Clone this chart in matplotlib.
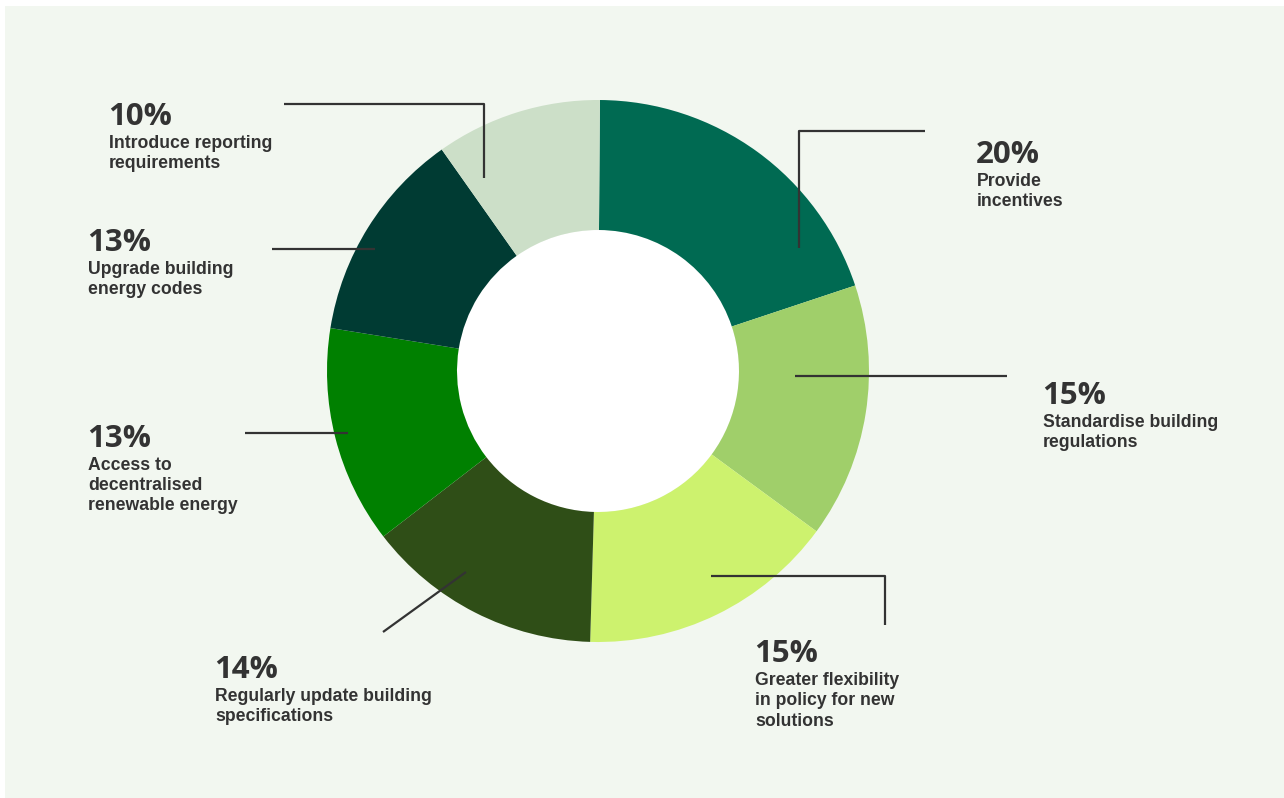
import matplotlib.pyplot as plt
from matplotlib.patches import Rectangle, Circle

# data, clockwise from 12 o'clock (shares)
shares = [19.8, 15.2, 15.4, 14.1, 13.0, 12.7, 9.9]
pct_labels = ["20%", "15%", "15%", "14%", "13%", "13%", "10%"]
names = ["Provide\nincentives",
         "Standardise building\nregulations",
         "Greater flexibility\nin policy for new\nsolutions",
         "Regularly update building\nspecifications",
         "Access to\ndecentralised\nrenewable energy",
         "Upgrade building\nenergy codes",
         "Introduce reporting\nrequirements"]
colors = ["#006A52", "#A0CF6A", "#CDF26E", "#2F4E17", "#008000", "#003B33", "#CCDFC8"]

# layout (pixel coords, y down): leader line paths and label anchors
leaders = [[(799, 248), (799, 131), (925, 131)],
           [(795, 376), (1007, 376)],
           [(711, 576), (885, 576), (885, 625)],
           [(466, 572), (383, 632)],
           [(348, 433), (245, 433)],
           [(375, 249), (272, 249)],
           [(484, 178), (484, 104), (284, 104)]]
label_pos = [(976, 140), (1042, 381), (754, 639), (214, 655),
             (87, 424), (87, 228), (108, 102)]

W, H = 1284, 798
fig = plt.figure(figsize=(W / 100, H / 100), dpi=100)
fig.patch.set_facecolor("white")
ax = fig.add_axes([0, 0, 1, 1])

ax.add_patch(Rectangle((5, 0), W - 5, H - 6, facecolor="#F2F7F0", edgecolor="none", zorder=0))

cx, cy, R, r_in = 598, H - 371, 271, 141
ax.pie(shares, colors=colors, startangle=89.6, counterclock=False,
       center=(cx, cy), radius=R, frame=True,
       wedgeprops=dict(width=R - r_in, edgecolor="none", zorder=2))
ax.add_patch(Circle((cx, cy), r_in, facecolor="white", edgecolor="none", zorder=1))
ax.set_xlim(0, W)
ax.set_ylim(0, H)
ax.set_aspect("equal")
ax.axis("off")

txt = "#333333"
for path, (lx, ly), p, n in zip(leaders, label_pos, pct_labels, names):
    xs = [q[0] for q in path]
    ys = [H - q[1] for q in path]
    ax.plot(xs, ys, color=txt, lw=1.6, solid_capstyle="butt", zorder=3)
    ax.text(lx, H - ly, p, fontsize=22.5, fontweight="bold", family="Open Sans",
            color=txt, va="top", ha="left")
    ax.text(lx + 1, H - ly - 33, n, fontsize=12.7, fontweight="bold",
            family="Liberation Sans", color=txt, va="top", ha="left", linespacing=1.25)

fig.savefig("out.png", dpi=100, facecolor=fig.get_facecolor())
